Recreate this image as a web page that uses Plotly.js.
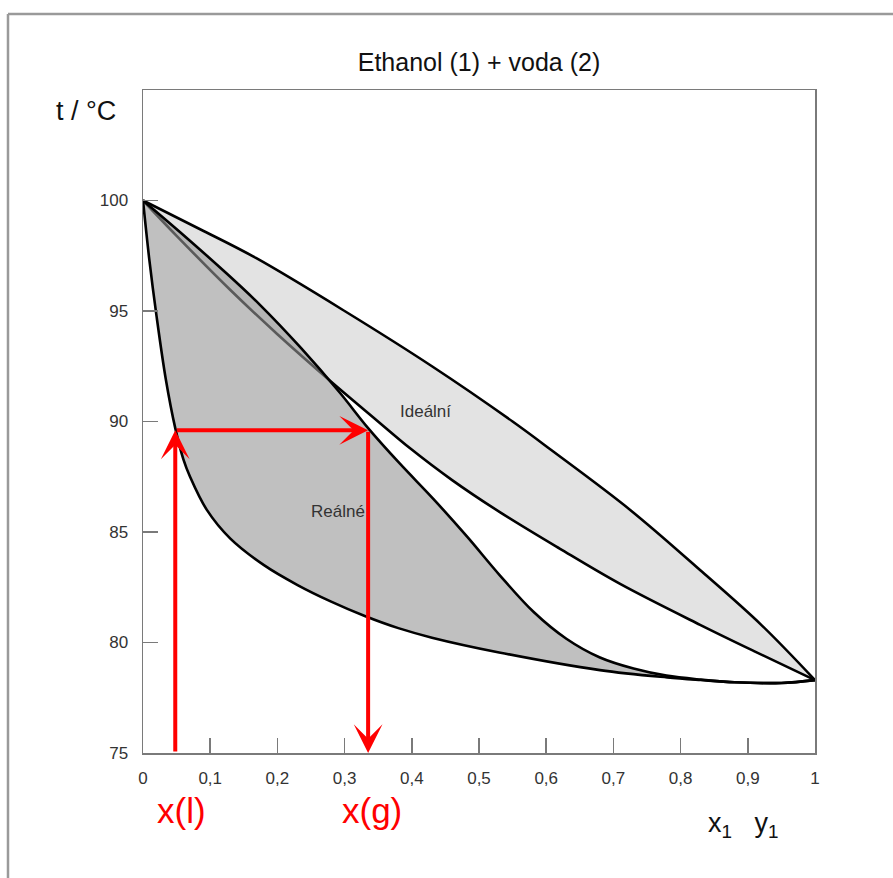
<!DOCTYPE html>
<html>
<head>
<meta charset="utf-8">
<script src="https://cdn.plot.ly/plotly-3.0.1.min.js"></script>
<style>
  html, body { margin: 0; padding: 0; background: #ffffff; }
  #chart { width: 893px; height: 878px; }
</style>
</head>
<body>
<div id="chart"></div>
<script>
// ---- data ----
// Ideal vapour (dew) curve: y1 vs t
const idealVapX = [0, 0.085, 0.168, 0.30, 0.430, 0.550, 0.608, 0.725, 0.832, 0.92, 1];
const idealVapT = [100, 98.7, 97.4, 95.0, 92.5, 90.0, 88.7, 86.0, 83.2, 80.8, 78.3];
// Ideal liquid (bubble) curve: x1 vs t
const idealLiqX = [0, 0.05, 0.13, 0.2, 0.28, 0.348, 0.397, 0.46, 0.531, 0.62, 0.71, 0.829, 0.91, 1];
const idealLiqT = [100, 98.4, 95.95, 93.95, 91.8, 90.05, 88.8, 87.35, 85.9, 84.25, 82.65, 80.8, 79.6, 78.3];
// Real liquid (bubble) curve
const realLiqX = [0, 0.0095, 0.02, 0.034, 0.048, 0.06, 0.07, 0.095, 0.13, 0.18, 0.23, 0.28, 0.33, 0.38, 0.43, 0.53, 0.68, 0.78, 0.83, 0.88, 0.95, 1];
const realLiqT = [100, 97.3, 94.8, 91.9, 89.7, 88.3, 87.5, 86.0, 84.7, 83.5, 82.6, 81.85, 81.2, 80.65, 80.22, 79.55, 78.75, 78.42, 78.3, 78.2, 78.17, 78.3];
// Real vapour (dew) curve
const realVapX = [0, 0.06, 0.12, 0.174, 0.235, 0.293, 0.335, 0.382, 0.432, 0.482, 0.531, 0.581, 0.63, 0.68, 0.73, 0.779, 0.83, 0.88, 0.95, 1];
const realVapT = [100, 98.44, 96.82, 95.28, 93.33, 91.3, 89.7, 88.1, 86.5, 84.8, 83.04, 81.39, 80.17, 79.32, 78.82, 78.5, 78.32, 78.2, 78.17, 78.3];
// Tie line (red arrows): x(l), x(g) at temperature tieT
const tieX = [0.048, 0.335];
const tieT = 89.6;
const tieBaseT = 75;
// Axis ticks
const xTickVals = [0, 0.1, 0.2, 0.3, 0.4, 0.5, 0.6, 0.7, 0.8, 0.9, 1];
const xTickText = ['0', '0,1', '0,2', '0,3', '0,4', '0,5', '0,6', '0,7', '0,8', '0,9', '1'];
const yTickVals = [75, 80, 85, 90, 95, 100];
const yTickText = ['75', '80', '85', '90', '95', '100'];
const xRange = [0, 1];
const yRange = [75, 105];

// ---- traces ----
const FONT = 'Liberation Sans, Arial, Helvetica, sans-serif';
const lightFill = '#e3e3e3';
const darkFill = 'rgba(150,150,150,0.6)';
const CLEAR = 'rgba(0,0,0,0)';

function lineTrace(x, y, color, width, fill, fillcolor) {
  const t = {
    x: x, y: y, type: 'scatter', mode: 'lines',
    line: { color: color, width: width, shape: 'spline', smoothing: 1 },
    hoverinfo: 'skip', showlegend: false, cliponaxis: false
  };
  if (fill) { t.fill = fill; t.fillcolor = fillcolor; }
  return t;
}

const traces = [
  // ideal two-phase region
  lineTrace(idealVapX, idealVapT, CLEAR, 0),
  lineTrace(idealLiqX, idealLiqT, CLEAR, 0, 'tonexty', lightFill),
  lineTrace(idealVapX, idealVapT, '#000000', 2.6),
  lineTrace(idealLiqX, idealLiqT, '#000000', 2.6),
  // real two-phase region (semi-transparent, greys the ideal curve beneath it)
  lineTrace(realLiqX, realLiqT, CLEAR, 0),
  lineTrace(realVapX, realVapT, CLEAR, 0, 'tonexty', darkFill),
  lineTrace(realLiqX, realLiqT, '#000000', 2.6),
  lineTrace(realVapX, realVapT, '#000000', 2.6)
];

// ---- arrows and labels ----
function arrow(x0, y0, x1, y1) {
  return {
    x: x1, y: y1, ax: x0, ay: y0,
    xref: 'x', yref: 'y', axref: 'x', ayref: 'y',
    showarrow: true, arrowhead: 3, arrowsize: 1.2, arrowwidth: 4,
    arrowcolor: '#ff0000', text: '', standoff: 0, startstandoff: 0
  };
}

const annotations = [
  arrow(tieX[0], tieBaseT, tieX[0], tieT),
  arrow(tieX[0], tieT, tieX[1], tieT),
  arrow(tieX[1], tieT, tieX[1], tieBaseT),
  { text: 't / °C', xref: 'paper', yref: 'paper', x: -0.085, y: 0.969,
    showarrow: false, xanchor: 'center', yanchor: 'middle',
    font: { family: FONT, size: 27, color: '#111' } },
  { text: 'Ideální', xref: 'x', yref: 'y', x: 0.42, y: 90.45,
    showarrow: false, xanchor: 'center', yanchor: 'middle',
    font: { family: FONT, size: 17, color: '#333' } },
  { text: 'Reálné', xref: 'x', yref: 'y', x: 0.29, y: 85.95,
    showarrow: false, xanchor: 'center', yanchor: 'middle',
    font: { family: FONT, size: 17, color: '#333' } },
  { text: 'x(l)', xref: 'x', yref: 'paper', x: 0.058, y: -0.086,
    showarrow: false, xanchor: 'center', yanchor: 'middle',
    font: { family: FONT, size: 35, color: '#ff0000' } },
  { text: 'x(g)', xref: 'x', yref: 'paper', x: 0.341, y: -0.086,
    showarrow: false, xanchor: 'center', yanchor: 'middle',
    font: { family: FONT, size: 35, color: '#ff0000' } },
  { text: 'x<sub>1</sub>   y<sub>1</sub>', xref: 'paper', yref: 'paper', x: 0.894, y: -0.108,
    showarrow: false, xanchor: 'center', yanchor: 'middle',
    font: { family: FONT, size: 27, color: '#111' } }
];

const shapes = [
  { type: 'line', xref: 'paper', yref: 'paper', x0: -0.2009, x1: 1.2, y0: 1.1146, y1: 1.1146,
    line: { color: '#9a9a9a', width: 2.5 }, layer: 'below' },
  { type: 'line', xref: 'paper', yref: 'paper', x0: -0.2009, x1: -0.2009, y0: 1.1146, y1: -0.25,
    line: { color: '#9a9a9a', width: 2.5 }, layer: 'below' }
];

const axisCommon = {
  ticks: 'inside', ticklen: 15, tickwidth: 1.5, tickcolor: '#7a7a7a',
  showline: true, linecolor: '#7a7a7a', linewidth: 1.5, mirror: true,
  showgrid: false, zeroline: false, fixedrange: true,
  tickfont: { family: FONT, size: 17, color: '#333' }
};

const layout = {
  width: 893, height: 878,
  margin: { l: 143, r: 78, t: 90, b: 125, pad: 0 },
  paper_bgcolor: '#ffffff', plot_bgcolor: '#ffffff',
  showlegend: false,
  title: { text: 'Ethanol (1) + voda (2)', xref: 'paper', x: 0.5, xanchor: 'center',
           yref: 'container', y: 1 - 62 / 878, yanchor: 'middle',
           font: { family: FONT, size: 25, color: '#111' } },
  xaxis: Object.assign({}, axisCommon, { range: xRange, tickvals: xTickVals, ticktext: xTickText, ticklabelstandoff: 9 }),
  yaxis: Object.assign({}, axisCommon, { range: yRange, tickvals: yTickVals, ticktext: yTickText, ticklabelstandoff: 10 }),
  annotations: annotations,
  shapes: shapes
};

Plotly.newPlot('chart', traces, layout, { displayModeBar: false, staticPlot: true });
</script>
</body>
</html>
